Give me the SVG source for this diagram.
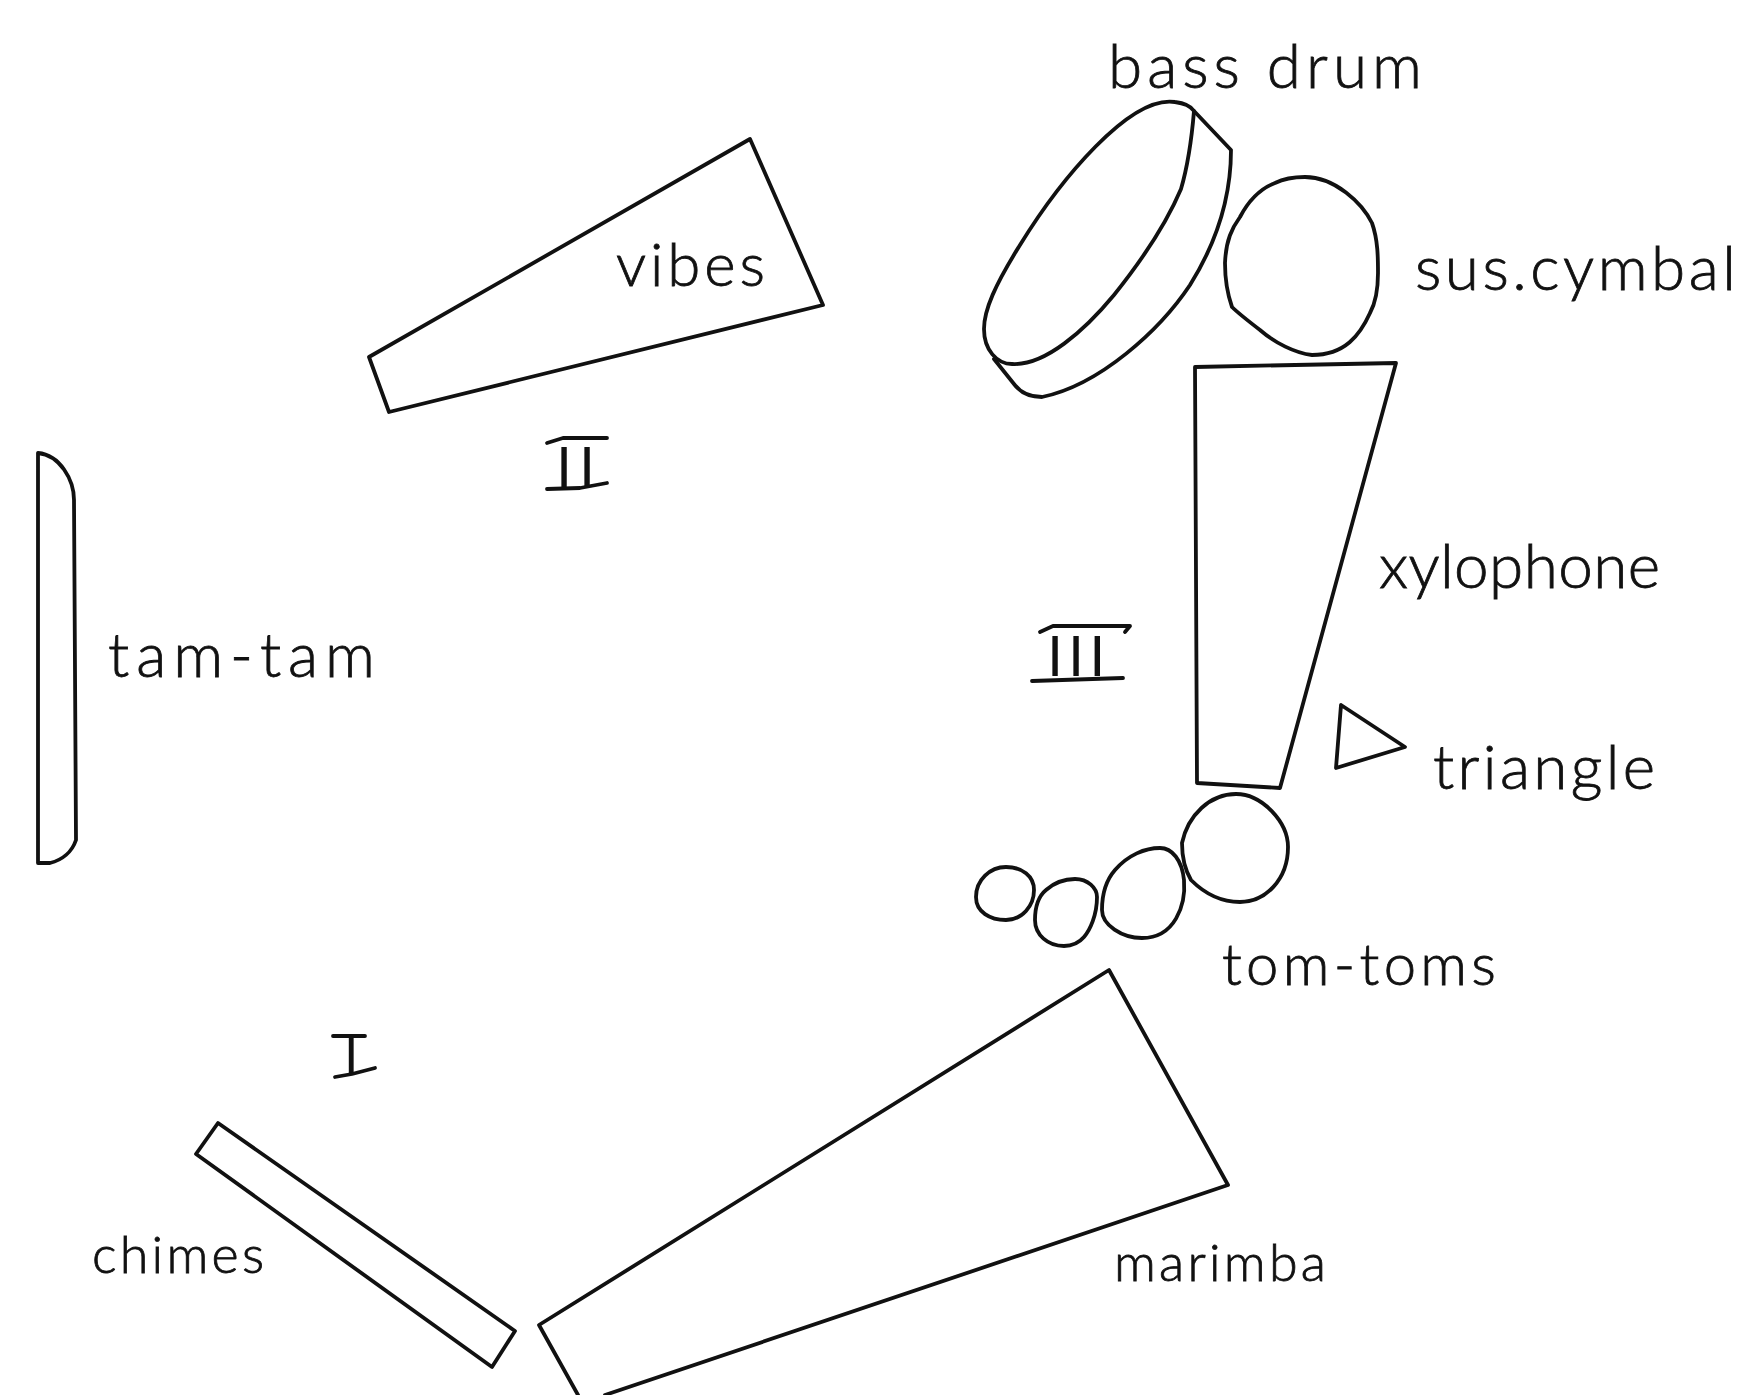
<svg xmlns="http://www.w3.org/2000/svg" width="1747" height="1395" viewBox="0 0 1747 1395">
<style>
.s{fill:none;stroke:#111;stroke-width:3.8;stroke-linejoin:round;stroke-linecap:round}
.t{font-family:"Lato","Open Sans",sans-serif;font-weight:300;font-size:60px;fill:#111;stroke:#111;stroke-width:.8}
.r{font-family:"Liberation Sans",sans-serif;font-size:58px;fill:#111}
</style>
<rect width="1747" height="1395" fill="#fff"/>
<g id="vibes"><polygon class="s" points="750,139 823,305 389,412 369,357"/><text class="t" x="616" y="286" textLength="149">vibes</text></g>
<g id="bass-drum">
<path class="s" d="M1175,102 C1130,95 1060,180 1020,245 C995,285 984,310 984,329 C984,350 997,364 1012,364 C1045,366 1085,330 1114,295 C1150,250 1170,215 1181,189 C1188,165 1192,135 1194,111 C1190,105 1183,103 1175,102 Z"/>
<path class="s" d="M1194,111 L1231,150 C1231,200 1215,245 1190,285 C1160,330 1100,385 1042,397 C1030,397 1020,392 1014,384 L994,359"/>
<text class="t" x="1108" y="88" textLength="314" style="font-size:62px">bass drum</text>
</g>
<g id="sus-cymbal">
<path class="s" d="M1305,177 C1335,177 1362,203 1372,223 C1378,240 1378,258 1378,273 C1378,290 1376,302 1370,313 C1360,335 1345,355 1312,355 C1295,353 1275,343 1260,330 C1247,320 1237,312 1232,307 C1226,290 1225,275 1225,263 C1226,240 1232,228 1240,217 C1250,198 1262,188 1275,183 C1285,178 1295,177 1305,177 Z"/>
<text class="t" x="1415" y="290" textLength="321" style="font-size:62px">sus.cymbal</text>
</g>
<g id="xylophone"><polygon class="s" points="1195,367 1396,363 1280,788 1197,783"/><text class="t" x="1379" y="588" textLength="281" style="font-size:62px">xylophone</text></g>
<g id="triangle"><polygon class="s" points="1341,705 1405,747 1336,768"/><text class="t" x="1433" y="789" textLength="222" style="font-size:62px">triangle</text></g>
<g id="tom-toms">
<path class="s" d="M1236,794 C1262,794 1288,822 1288,847 C1288,880 1265,902 1240,902 C1220,902 1203,892 1191,880 C1184,868 1182,855 1182,843 C1188,815 1210,794 1236,794 Z"/>
<path class="s" d="M1160,848 C1172,848 1182,860 1184,880 C1186,905 1175,938 1142,938 C1122,938 1102,925 1102,910 C1102,890 1108,878 1115,870 C1128,855 1145,848 1160,848 Z"/>
<path class="s" d="M1075,879 C1088,879 1097,888 1097,897 C1097,915 1090,930 1084,937 C1078,944 1070,946 1064,946 C1048,946 1035,935 1035,920 C1035,905 1040,895 1046,890 C1055,882 1065,879 1075,879 Z"/>
<path class="s" d="M1006,867 C1022,867 1034,876 1034,890 C1034,906 1022,920 1006,920 C990,920 976,912 976,897 C976,880 990,867 1006,867 Z"/>
<text class="t" x="1222" y="985" textLength="274" style="font-size:58px">tom-toms</text>
</g>
<g id="tam-tam"><path class="s" d="M38,453 L38,863 L50,863 C62,860 72,852 76,840 L74,500 C74,480 60,455 38,453 Z"/><text class="t" x="108" y="677" textLength="267" style="font-size:62px">tam-tam</text></g>
<g id="marimba"><path class="s" d="M578,1395 L539,1325 L1109,970 L1228,1185 L605,1395"/><text class="t" x="1114" y="1281" textLength="212" style="font-size:52px">marimba</text></g>
<g id="chimes"><polygon class="s" points="218,1123 515,1331 492,1367 196,1154"/><text class="t" x="92" y="1273" textLength="172" style="font-size:52px">chimes</text></g>
<g id="section-I"><text class="r" x="344" y="1074" style="font-size:52px">I</text><path class="s" d="M333,1036 H365 M335,1077 L352,1074 L375,1068"/></g>
<g id="section-II"><text class="r" x="556" y="487" letter-spacing="7">II</text><path class="s" d="M547,443 L563,438 H607 M547,489 L580,488 L607,483"/></g>
<g id="section-III"><text class="r" x="1047" y="676" letter-spacing="5">III</text><path class="s" d="M1040,632 L1053,626 H1130 L1125,632 M1032,681 L1123,678"/></g>
</svg>
